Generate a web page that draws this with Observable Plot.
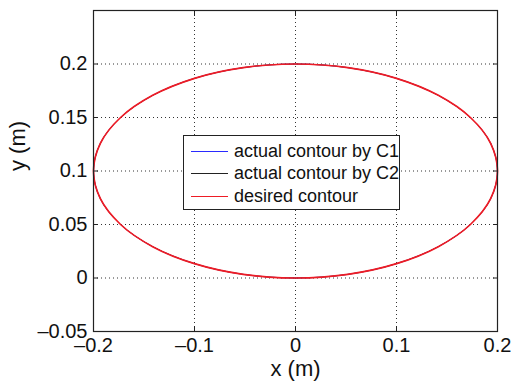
<!DOCTYPE html>
<html>
<head>
<meta charset="utf-8">
<script src="https://cdn.jsdelivr.net/npm/d3@7"></script>
<script src="https://cdn.jsdelivr.net/npm/@observablehq/plot@0.6"></script>
<style>
  body { margin: 0; background: #fff; }
  #wrap { position: relative; width: 511px; height: 388px; font-family: "Liberation Sans", Arial, sans-serif; }
  #legend { position: absolute; left: 183px; top: 135px; width: 217px; height: 75px; border: 1px solid #222; background: #fff; box-sizing: border-box; font-size: 18px; color: #111; }
  .row { position: absolute; left: 0; height: 22px; display: flex; align-items: center; white-space: nowrap; }
  .sw { width: 37px; height: 0; border-top: 1.5px solid; margin-left: 7px; margin-right: 6px; }
</style>
</head>
<body>
<div id="wrap"></div>
<script>
// Desired contour (ellipse) points
const desiredX = [0.2, 0.1932, 0.1732, 0.1414, 0.1, 0.0518, 0, -0.0518, -0.1, -0.1414, -0.1732, -0.1932,
                  -0.2, -0.1932, -0.1732, -0.1414, -0.1, -0.0518, 0, 0.0518, 0.1, 0.1414, 0.1732, 0.1932];
const desiredY = [0.1, 0.1259, 0.15, 0.1707, 0.1866, 0.1966, 0.2, 0.1966, 0.1866, 0.1707, 0.15, 0.1259,
                  0.1, 0.0741, 0.05, 0.0293, 0.0134, 0.0034, 0, 0.0034, 0.0134, 0.0293, 0.05, 0.0741];
// Actual contours coincide with the desired one (hidden beneath it)
const c1X = desiredX, c1Y = desiredY;
const c2X = desiredX, c2Y = desiredY;

const seriesNames = ["actual contour by C1", "actual contour by C2", "desired contour"];
const seriesColors = ["#2a2aff", "#222222", "#ee1c25"];

const xTicks = [-0.2, -0.1, 0, 0.1, 0.2];
const xTickLabels = ["\u20130.2", "\u20130.1", "0", "0.1", "0.2"];
const yTicks = [-0.05, 0, 0.05, 0.1, 0.15, 0.2];
const yTickLabels = ["\u20130.05", "0", "0.05", "0.1", "0.15", "0.2"];
const xLabel = "x (m)";
const yLabel = "y (m)";

const toPts = (xs, ys) => xs.map((x, i) => ({x, y: ys[i]}));
const seriesData = [toPts(c1X, c1Y), toPts(c2X, c2Y), toPts(desiredX, desiredY)];
const seriesWidths = [0.8, 0.8, 1.7];

const chart = Plot.plot({
  width: 511,
  height: 388,
  marginLeft: 93,
  marginRight: 14,
  marginTop: 10,
  marginBottom: 57,
  style: {fontFamily: "Liberation Sans, Arial, sans-serif", background: "#fff", color: "#111"},
  x: {domain: [-0.2, 0.2]},
  y: {domain: [-0.05, 0.25]},
  marks: [
    Plot.gridX(xTicks, {stroke: "#333", strokeOpacity: 1, strokeDasharray: "1,3"}),
    Plot.gridY(yTicks, {stroke: "#333", strokeOpacity: 1, strokeDasharray: "1,3"}),
    ...seriesData.map((d, i) => Plot.line(d, {x: "x", y: "y", curve: "catmull-rom-closed", stroke: seriesColors[i], strokeWidth: seriesWidths[i]})),
    Plot.axisX(xTicks, {anchor: "bottom", tickSize: 0, tickPadding: 6, fontSize: 20, label: null,
      tickFormat: d => xTickLabels[xTicks.indexOf(d)]}),
    Plot.axisY(yTicks, {anchor: "left", tickSize: 0, tickPadding: 6, fontSize: 20, label: null,
      tickFormat: d => yTickLabels[yTicks.indexOf(d)]}),
    Plot.axisX(xTicks, {anchor: "bottom", tickSize: -5, label: null, tickFormat: () => "", stroke: "#222"}),
    Plot.axisX(xTicks, {anchor: "top", tickSize: -5, label: null, tickFormat: () => "", stroke: "#222"}),
    Plot.axisY(yTicks, {anchor: "left", tickSize: -5, label: null, tickFormat: () => "", stroke: "#222"}),
    Plot.axisY(yTicks, {anchor: "right", tickSize: -5, label: null, tickFormat: () => "", stroke: "#222"}),
    Plot.frame({stroke: "#222", strokeWidth: 1.2}),
    Plot.text([xLabel], {text: d => d, frameAnchor: "bottom", dy: 44, fontSize: 22, fill: "#111"}),
    Plot.text([yLabel], {text: d => d, frameAnchor: "left", dx: -76, rotate: -90, fontSize: 22, fill: "#111"})
  ]
});

const wrap = document.getElementById("wrap");
wrap.appendChild(chart);

const legend = document.createElement("div");
legend.id = "legend";
const rowTops = [4, 26, 49];
seriesNames.forEach((name, i) => {
  const row = document.createElement("div");
  row.className = "row";
  row.style.top = rowTops[i] + "px";
  const sw = document.createElement("span");
  sw.className = "sw";
  sw.style.borderTopColor = seriesColors[i];
  const t = document.createElement("span");
  t.textContent = name;
  row.appendChild(sw);
  row.appendChild(t);
  legend.appendChild(row);
});
wrap.appendChild(legend);
</script>
</body>
</html>
